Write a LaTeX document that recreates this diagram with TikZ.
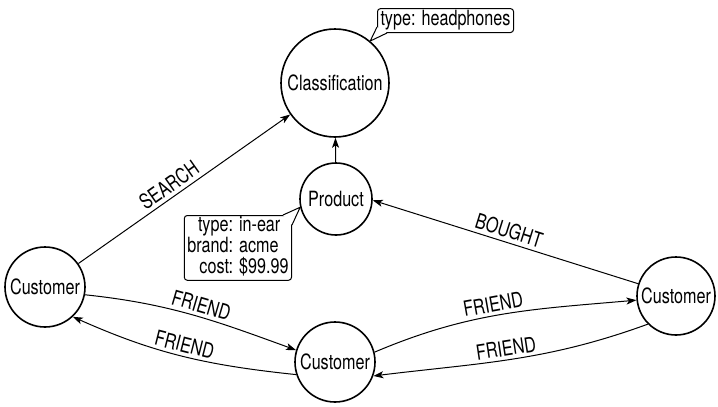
\documentclass[tikz,border=0pt]{standalone}
\usepackage{fontspec}
\setmainfont[FakeStretch=0.77]{TeX Gyre Heros}
\usetikzlibrary{arrows.meta}
\newcommand\graphfont{\fontsize{21}{18.3}\selectfont}
\tikzset{
  >={Stealth[length=10pt,width=7pt,inset=2.5pt]},
  entity/.style={circle, draw, line width=1.6pt, inner sep=0pt, font=\graphfont},
  rel/.style={->, line width=1pt},
  rellabel/.style={above, sloped, inner sep=3.5pt, font=\graphfont},
  props/.style={draw, rounded corners=3pt, line width=1pt, fill=white,
    inner xsep=3pt, inner ysep=2pt, font=\graphfont},
  pointer/.style={line width=1pt, fill=white, line join=round}
}

\begin{document}
\begin{tikzpicture}[x=1pt,y=1pt]
  \useasboundingbox (0,0) rectangle (718,-407);
  \node[entity, minimum size=108pt] (cls) at (335,-83) {Classification};
  \node[entity, minimum size=72pt] (prod) at (336,-199) {Product};
  \node[entity, minimum size=80pt] (custA) at (45,-287) {Customer};
  \node[entity, minimum size=80pt] (custB) at (335,-362) {Customer};
  \node[entity, minimum size=78pt] (custC) at (676,-296) {Customer};

  \node[props, anchor=south west] (clsProps) at (377,-33) {type: headphones};
  \draw[pointer] ([yshift=6pt]clsProps.south west) -- (cls.50) -- ([xshift=10pt]clsProps.south west);
  \node[props, anchor=north east, inner ysep=1pt] (prodProps) at (292,-215) {\begin{tabular}{@{}r@{ }l@{}}
      type: & in-ear\\ brand: & acme\\ cost: & \$99.99
    \end{tabular}};
  \draw[pointer] ([xshift=-9pt]prodProps.north east) -- (prod.193) -- ([yshift=-10pt]prodProps.north east);

  \draw[rel] (custA) -- node[rellabel, pos=0.46] {SEARCH} (cls);
  \draw[rel] (prod) -- (cls);
  \draw[rel] (custC.162) -- node[rellabel] {BOUGHT} (prod.-2);
  \draw[rel] (custA.-11) to[out=-6, in=160] node[rellabel, pos=0.53] {FRIEND} (custB.163);
  \draw[rel] (custB.198) to[out=174, in=-24] node[rellabel] {FRIEND} (custA.-47);
  \draw[rel] (custB.14) to[out=23, in=185] node[rellabel, pos=0.47] {FRIEND} (custC.186);
  \draw[rel] (custC.225) to[out=200, in=7] node[rellabel, pos=0.52] {FRIEND} (custB.-20);
\end{tikzpicture}
\end{document}
